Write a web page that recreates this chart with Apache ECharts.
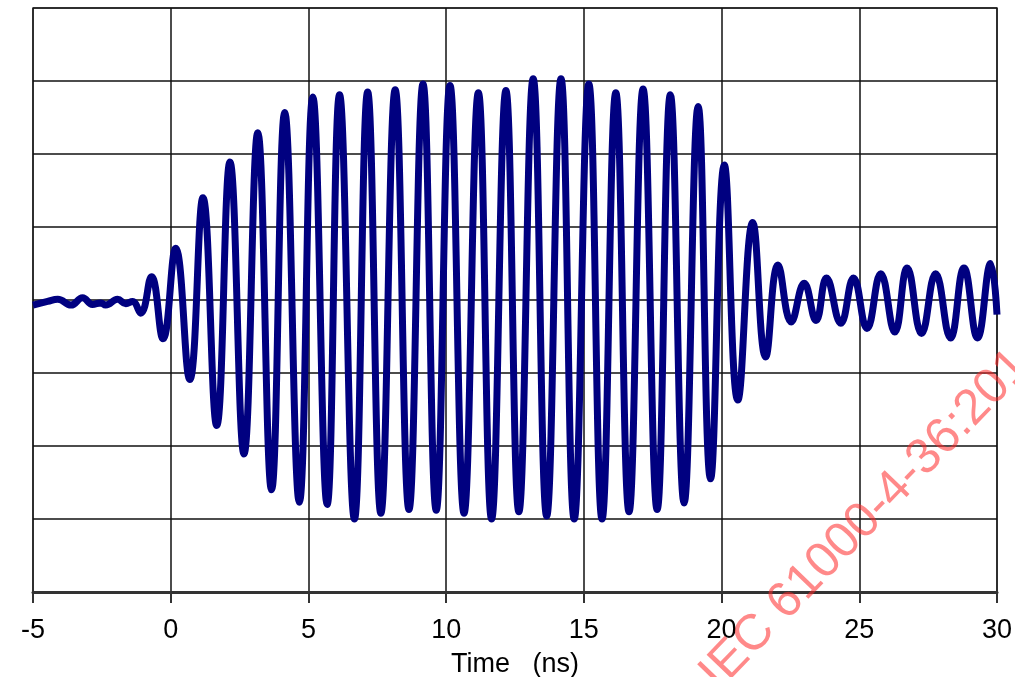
<!DOCTYPE html>
<html>
<head>
<meta charset="utf-8">
<script src="https://cdn.jsdelivr.net/npm/echarts@6/dist/echarts.min.js"></script>
<style>
  html, body { margin: 0; padding: 0; background: #fff; }
  #chart { width: 1015px; height: 677px; }
</style>
</head>
<body>
<div id="chart"></div>
<script>
// Time axis ticks (ns)
const timeTicks = [-5, 0, 5, 10, 15, 20, 25, 30];

// Pre-trigger noise floor
const leadTimes  = [-5.00, -4.47, -4.10, -3.62, -3.20, -2.84, -2.54, -2.36, -1.93, -1.63, -1.39, -1.09];
const leadValues = [-0.07, -0.02,  0.01, -0.07,  0.03, -0.06, -0.04, -0.07,  0.01, -0.05, -0.02, -0.18];

// Burst: successive peaks and troughs
const burstTimes  = [-0.70, -0.28, 0.18, 0.69, 1.17, 1.67, 2.15, 2.66, 3.16, 3.66, 4.14, 4.67,
                     5.16, 5.68, 6.13, 6.67, 7.15, 7.63, 8.15, 8.65, 9.16, 9.64, 10.14, 10.65,
                     11.17, 11.65, 12.17, 12.64, 13.16, 13.65, 14.17, 14.65, 15.18, 15.66, 16.16, 16.64,
                     17.15, 17.66, 18.14, 18.64, 19.15, 19.60, 20.10, 20.59, 21.13];
const burstValues = [0.32, -0.53, 0.71, -1.09, 1.40, -1.72, 1.89, -2.11, 2.29, -2.60, 2.57, -2.77,
                     2.78, -2.80, 2.81, -3.00, 2.85, -2.92, 2.88, -2.87, 2.96, -2.88, 2.94, -2.92,
                     2.84, -3.00, 2.87, -2.90, 3.03, -2.96, 3.03, -3.00, 2.96, -3.00, 2.84, -2.90,
                     2.89, -2.87, 2.81, -2.78, 2.65, -2.45, 1.85, -1.37, 1.06];

// Ring-down after the burst
const tailTimes  = [21.60, 22.05, 22.53, 23.00, 23.43, 23.81, 24.33, 24.79, 25.28, 25.78,
                    26.29, 26.74, 27.26, 27.77, 28.31, 28.80, 29.29, 29.77, 30.00];
const tailValues = [-0.78, 0.48, -0.30, 0.23, -0.28, 0.30, -0.32, 0.30, -0.39, 0.36,
                    -0.44, 0.44, -0.46, 0.36, -0.52, 0.44, -0.52, 0.50, -0.20];

const times  = leadTimes.concat(burstTimes, tailTimes);
const values = leadValues.concat(burstValues, tailValues);
const points = times.map((t, i) => [t, values[i]]);

const chart = echarts.init(document.getElementById('chart'), null, { renderer: 'canvas' });

chart.setOption({
  animation: false,
  backgroundColor: '#ffffff',
  grid: {
    left: 33, right: 18, top: 8, bottom: 85,
    containLabel: false,
    outerBoundsMode: 'none',
    show: true,
    borderColor: '#8c8c8c',
    borderWidth: 2,
    backgroundColor: 'transparent'
  },
  xAxis: {
    type: 'value',
    min: timeTicks[0],
    max: timeTicks[timeTicks.length - 1],
    interval: 5,
    name: 'Time   (ns)',
    nameLocation: 'middle',
    nameGap: 59,
    nameTextStyle: { fontFamily: 'Liberation Sans, Arial, sans-serif', fontSize: 27, color: '#000' },
    axisLine: { show: true, onZero: false, lineStyle: { color: '#333', width: 3 } },
    axisTick: { show: true, length: 11, lineStyle: { color: '#333', width: 2 } },
    axisLabel: {
      margin: 25,
      fontFamily: 'Liberation Sans, Arial, sans-serif',
      fontSize: 27,
      color: '#000',
      formatter: v => String(v)
    },
    splitLine: { show: true, lineStyle: { color: '#111', width: 1.5 } }
  },
  yAxis: {
    type: 'value',
    min: -4,
    max: 4,
    interval: 1,
    axisLine: { show: false },
    axisTick: { show: false },
    axisLabel: { show: false },
    splitLine: { show: true, lineStyle: { color: '#111', width: 1.5 } }
  },
  series: [{
    type: 'line',
    data: points,
    smooth: 0.45,
    showSymbol: false,
    clip: true,
    lineStyle: { color: '#000080', width: 7 },
    z: 3
  }],
  graphic: [{
    type: 'text',
    x: 875,
    y: 510,
    rotation: 46 * Math.PI / 180,
    z: 100,
    style: {
      text: 'IEC 61000-4-36:2014',
      fontFamily: 'Liberation Sans, Arial, sans-serif',
      fontSize: 50,
      fill: 'rgba(255, 40, 40, 0.55)',
      align: 'center',
      verticalAlign: 'middle'
    }
  }]
});
</script>
</body>
</html>
